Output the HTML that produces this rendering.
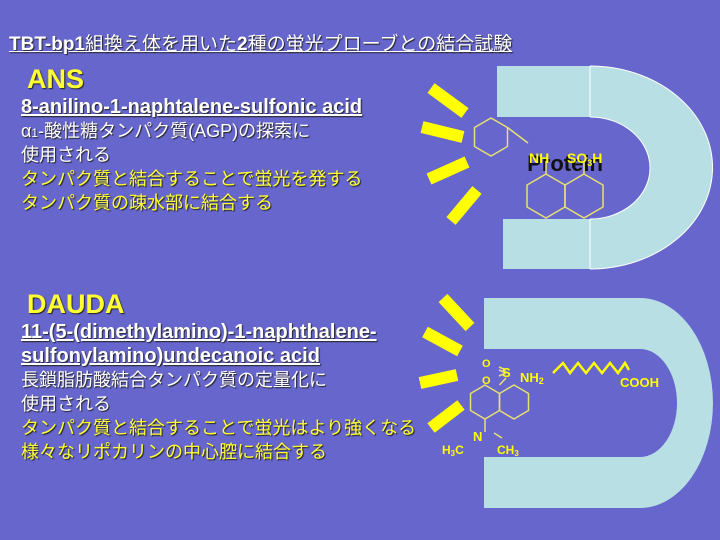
<!DOCTYPE html>
<html><head><meta charset="utf-8"><style>
body{margin:0;width:720px;height:540px;background:#6666CC;overflow:hidden;position:relative;font-family:"Liberation Sans","Noto Sans CJK JP",sans-serif;}
.t{position:absolute;white-space:nowrap;color:#fff;text-shadow:1px 1px 1px #222;font-size:18px;line-height:24px;}
.y{color:#FFFF33;}
.b{font-weight:bold;}
.u{text-decoration:underline;}
.l{font-size:20px;}
svg{position:absolute;left:0;top:0;}
</style></head><body>
<svg width="720" height="540">
<path d="M497,66 H590 A122,101 0 0 1 590,269 H503 V219 H590 A60,51 0 0 0 590,117 H497 Z" fill="#B8E0E4"/>
<path d="M590,66 A122,101 0 0 1 590,269 M590,117 A60,51 0 0 1 590,219 M590,66 V117 M590,219 V269" fill="none" stroke="#fff" stroke-width="1"/>
<path d="M484,298 H640 A73,105 0 0 1 640,508 H484 V457 H640 A37,54 0 0 0 640,349 H484 Z" fill="#B8E0E4"/>
<g stroke="#FFFF00" stroke-width="12" stroke-linecap="butt">
<line x1="431" y1="88" x2="465" y2="113"/><line x1="422" y1="127" x2="463" y2="137"/>
<line x1="429" y1="179" x2="467" y2="162"/><line x1="451" y1="221" x2="477" y2="190"/>
<line x1="443" y1="298" x2="470" y2="327"/><line x1="425" y1="332" x2="460" y2="351"/>
<line x1="420" y1="383" x2="457" y2="375"/><line x1="431" y1="428" x2="461" y2="405"/>
</g>
<text x="565" y="171" font-family="Liberation Sans" font-weight="700" font-size="22" text-anchor="middle" fill="#111">Protein</text>
<g stroke="#E8E070" stroke-width="1.5" fill="none">
<polygon points="491,118 507.5,127.5 507.5,146.5 491,156 474.5,146.5 474.5,127.5"/>
<polyline points="507.5,127.5 528,143"/>
<polygon points="546,174 565,185 565,207 546,218 527,207 527,185"/>
<polygon points="584,174 603,185 603,207 584,218 565,207 565,185"/>
<line x1="546" y1="174" x2="546" y2="161"/><line x1="584" y1="174" x2="584" y2="161"/>
<polygon points="485,385 499.5,393.5 499.5,410.5 485,419 470.5,410.5 470.5,393.5"/>
<polygon points="514,385 528.5,393.5 528.5,410.5 514,419 499.5,410.5 499.5,393.5"/>
<line x1="485" y1="419" x2="485" y2="432"/><line x1="494" y1="433" x2="502" y2="438"/>
<line x1="499.5" y1="385" x2="506" y2="378"/>
<line x1="499" y1="367" x2="506" y2="370"/><line x1="499" y1="370" x2="506" y2="373"/><line x1="499" y1="376" x2="506" y2="373"/>
</g>
<polyline points="553,373 563,363 570,373 578,363 586,373 594,363 602,373 610,363 618,373 625,363 629,370" fill="none" stroke="#FFFF00" stroke-width="2.5"/>
<g font-family="Liberation Sans" font-weight="700" fill="#FFFF00">
<text x="529" y="163" font-size="14">NH</text>
<text x="567" y="163" font-size="14">SO<tspan font-size="9" dy="3">3</tspan><tspan dy="-3">H</tspan></text>
<text x="482" y="367" font-size="11">O</text><text x="482" y="384" font-size="11">O</text>
<text x="502" y="377" font-size="13">S</text>
<text x="520" y="382" font-size="13">NH<tspan font-size="9" dy="2">2</tspan></text>
<text x="620" y="387" font-size="13">COOH</text>
<text x="473" y="441" font-size="13">N</text>
<text x="442" y="454" font-size="12">H<tspan font-size="8" dy="2">3</tspan><tspan dy="-2">C</tspan></text>
<text x="497" y="454" font-size="12">CH<tspan font-size="8" dy="2">3</tspan></text>
</g>
</svg>
<div class="t u" style="left:9px;top:33px;font-size:19px;"><b>TBT-bp1</b>組換え体を用いた<b>2</b>種の蛍光プローブとの結合試験</div>
<div class="t y b" style="left:27px;top:63px;font-size:27px;line-height:32px;">ANS</div>
<div class="t b u l" style="left:21px;top:95px;">8-anilino-1-naphtalene-sulfonic acid</div>
<div class="t" style="left:21px;top:119px;">α<span style="font-size:12px">1</span>-酸性糖タンパク質(AGP)の探索に</div>
<div class="t" style="left:21px;top:143px;">使用される</div>
<div class="t y" style="left:21px;top:167px;">タンパク質と結合することで蛍光を発する</div>
<div class="t y" style="left:21px;top:191px;">タンパク質の疎水部に結合する</div>
<div class="t y b" style="left:27px;top:288px;font-size:27px;line-height:32px;">DAUDA</div>
<div class="t b u l" style="left:21px;top:320px;">11-(5-(dimethylamino)-1-naphthalene-</div>
<div class="t b u l" style="left:21px;top:344px;">sulfonylamino)undecanoic acid</div>
<div class="t" style="left:21px;top:368px;">長鎖脂肪酸結合タンパク質の定量化に</div>
<div class="t" style="left:21px;top:392px;">使用される</div>
<div class="t y" style="left:21px;top:416px;">タンパク質と結合することで蛍光はより強くなる</div>
<div class="t y" style="left:21px;top:440px;">様々なリポカリンの中心腔に結合する</div>
</body></html>
